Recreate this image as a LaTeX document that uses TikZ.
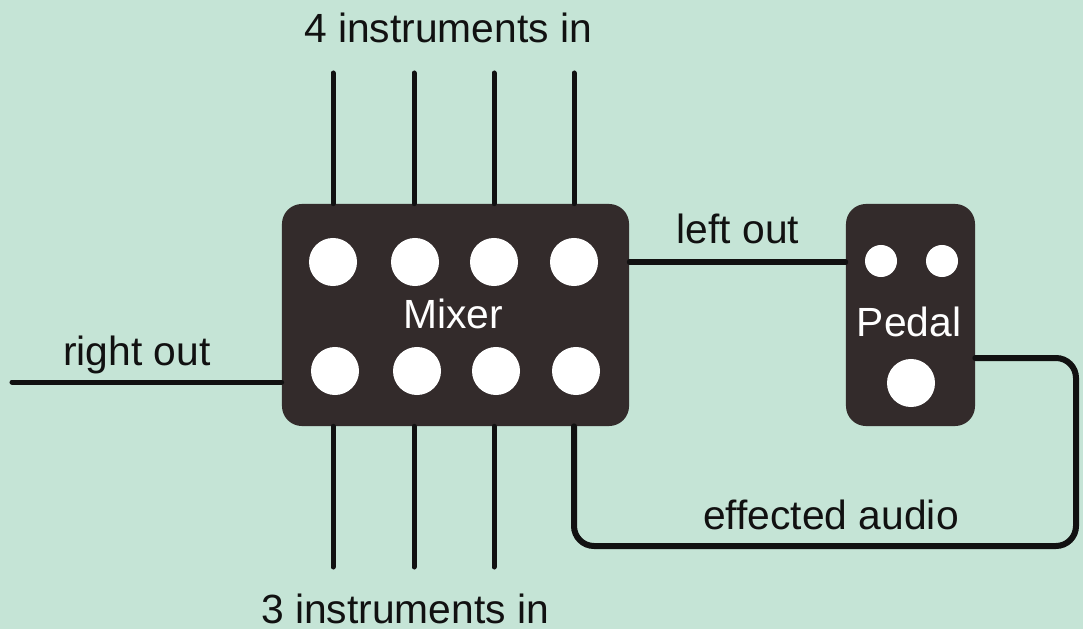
\documentclass[tikz,border=0pt]{standalone}
\usepackage{fontspec}
\setmainfont{Liberation Sans}
\usepackage{xcolor}
\usepackage{tikz}
\usetikzlibrary{positioning}
\usetikzlibrary{calc}

\definecolor{bgmint}{HTML}{C5E4D6}
\definecolor{boxdark}{HTML}{332B2B}
\definecolor{inkblack}{HTML}{111111}

\tikzset{
    unitbox/.style={draw=none, fill=boxdark, rounded corners=0.5cm, minimum height=5.55cm},
    jack/.style={circle, fill=white, inner sep=0pt, minimum size=1.2cm},
    knob/.style={circle, fill=white, inner sep=0pt, minimum size=0.8cm},
    cable/.style={line width=0.125cm, line cap=round, inkblack},
    lbl/.style={anchor=base, inner sep=0pt, text=inkblack, font=\fontsize{29}{34}\selectfont},
    boxlbl/.style={anchor=base, inner sep=0pt, text=white, font=\fontsize{29}{34}\selectfont}
}

\begin{document}
\begin{tikzpicture}[x=0.025cm, y=-0.025cm]
    \fill[bgmint] (0,0) rectangle (1083,629);
    \useasboundingbox (0,0) rectangle (1083,629);

    % units
    \node[unitbox, minimum width=8.675cm] (mixer) at (455.5,315) {};
    \node[unitbox, minimum width=3.225cm] (pedal) at (910.5,315) {};

    \foreach \x [count=\i] in {333,415,494,574} {
        \node[jack] (mt\i) at (\x,262) {};
        \node[jack] (mb\i) at (\x+2,371) {};
    }
    \node[knob] (k1) at (881,261) {};
    \node[knob] (k2) at (942,261) {};
    \node[jack] (foot) at (911,383) {};

    \node[boxlbl] (mixlbl) at (453,328) {Mixer};
    \node[boxlbl] (pedlbl) at (909,336) {Pedal};

    % free cable ends
    \foreach \x [count=\i] in {333,414,494,574} {
        \coordinate (top\i) at (\x,73);
    }
    \foreach \x [count=\i] in {333,414,494} {
        \coordinate (bot\i) at (\x,567);
    }
    \coordinate (rend) at (12,382);
    \coordinate (loopR) at (1076,358);

    % cables
    \foreach \i in {1,...,4} {
        \draw[cable] (top\i) -- (top\i |- mixer.north);
    }
    \foreach \i in {1,...,3} {
        \draw[cable] (bot\i |- mixer.south) -- (bot\i);
    }
    \draw[cable] (rend) -- (rend -| mixer.west);
    \draw[cable] (mixer.east |- mt4) -- (pedal.west |- mt4);
    \draw[cable, line width=0.15cm, rounded corners=0.5cm] (top4 |- mixer.south) -- (574,546) -- (loopR |- 0,546) -- (loopR) -- (pedal.east |- loopR);

    % labels
    \node[lbl] (inlbl) at (448,43) {4 instruments in};
    \node[lbl] (in3lbl) at (405,623) {3 instruments in};
    \node[lbl] (rlbl) at (137,365) {right out};
    \node[lbl] (llbl) at (738,243) {left out};
    \node[lbl] (elbl) at (831,529) {effected audio};
\end{tikzpicture}
\end{document}
